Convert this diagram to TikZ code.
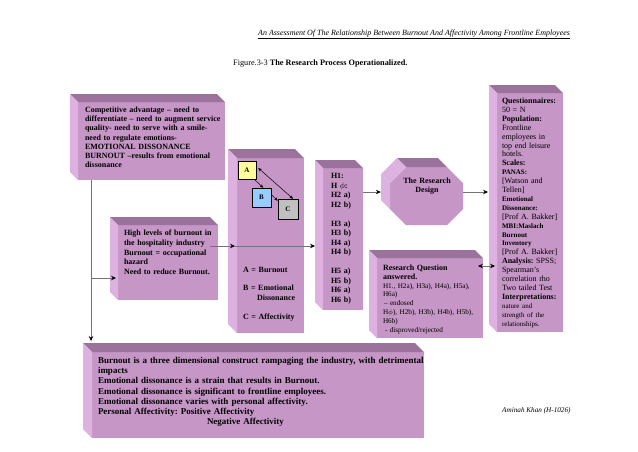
\documentclass[tikz,border=0pt]{standalone}
\usepackage{fontspec}
\setmainfont{Liberation Serif}
\usetikzlibrary{arrows.meta,calc}
\frenchspacing
\definecolor{fr}{RGB}{197,150,198}
\definecolor{tp}{RGB}{154,114,156}
\definecolor{lf}{RGB}{221,178,225}
\definecolor{ya}{RGB}{255,255,153}
\definecolor{bb}{RGB}{153,204,255}
\definecolor{gc}{RGB}{192,192,192}
\newcommand\mycube[6]{%
  \node[face, minimum width={#4-#2}, minimum height={#5-#3}] (#1) at ({(#2+#4)/2},{(#3+#5)/2}) {};
  \fill[tp] (#1.north west) -- ++(-#6,-#6) -- ($(#1.north east)+(-#6,-#6)$) -- (#1.north east) -- cycle;
  \fill[lf] (#1.north west) -- ++(-#6,-#6) -- ($(#1.south west)+(-#6,-#6)$) -- (#1.south west) -- cycle;
}
\tikzset{
  face/.style={fill=fr, inner sep=0pt, outer sep=0pt, draw=none},
  con/.style={draw=black!55, line width=0.6pt},
  arr/.style={con, -{Stealth[length=5pt,width=4.5pt,inset=1.8pt,color=black]}},
  darr/.style={con, {Stealth[length=5pt,width=4.5pt,inset=1.8pt,color=black]}-{Stealth[length=5pt,width=4.5pt,inset=1.8pt,color=black]}},
  sarr/.style={draw=black, line width=0.5pt, -{Stealth[length=3.5pt,width=3pt,inset=1pt]}},
  sdarr/.style={draw=black, line width=0.5pt, {Stealth[length=3.5pt,width=3pt,inset=1pt]}-{Stealth[length=3.5pt,width=3pt,inset=1pt]}},
  txt/.style={inner sep=0pt, outer sep=0pt, anchor=base west, align=left},
  lbl/.style={draw=black, line width=0.5pt, inner sep=0pt, font=\fontsize{7}{8}\selectfont\bfseries},
}
\begin{document}
\begin{tikzpicture}[x=1pt,y=-1pt]
\useasboundingbox[fill=white] (0,0) rectangle (638,451);

% 3D boxes
\mycube{b1}{78}{102}{225}{180}{8}
\mycube{b2}{118}{225}{218}{300}{8}
\mycube{b3}{237}{158}{304}{333}{9}
\mycube{b4}{323}{168}{363}{310}{8}
\mycube{b5}{92}{352}{424}{438}{9}
\mycube{b6}{377}{258}{483}{338}{8}
\mycube{b7}{497}{93}{563}{332}{8}

% octagon
\node[inner sep=0pt, minimum width=73, minimum height=58] (oct) at (426.5,196) {};
\fill[fr] (406,167) -- (447,167) -- (463,183) -- (463,209) -- (447,225) -- (406,225) -- (390,209) -- (390,183) -- cycle;
\fill[tp] (406,167) -- (447,167) -- (438,158) -- (397,158) -- cycle;
\fill[lf] (390,183) -- (406,167) -- (397,158) -- (381,174) -- cycle;
\fill[lf] (390,183) -- (390,209) -- (381,200) -- (381,174) -- cycle;

% connectors
\coordinate (v0) at ($(b1.south west)+(13,0)$);
\draw[arr] (v0) -- ($(v0 |- b5.north)+(0,-11)$);
\coordinate (v2) at ($(v0 |- b2.west)+(0,15.5)$);
\draw[arr] (v2) -- ([xshift=-2pt]b2.west |- v2);
\coordinate (h1) at ($(b2.east)+(-8,-16.5)$);
\draw[arr] (h1) -- ([xshift=-2pt]b3.west |- h1);
\draw[arr] ([xshift=-2pt]b3.west |- h1) -- ([xshift=-8pt]b4.west |- h1);
\coordinate (h2) at ($(b4.east)+(0,-47)$);
\draw[arr] (h2) -- ([xshift=-9pt]oct.west |- h2);
\draw[arr] (oct.east |- h2) -- ([xshift=-9pt]b7.west |- h2);
\coordinate (h3) at ($(b6.east)+(-5,-32)$);
\draw[darr] (h3) -- ([xshift=-2pt]b7.west |- h3);

% A B C
\node[lbl, fill=ya, minimum size=18pt] (A) at (247,170) {A};
\node[lbl, fill=bb, minimum size=19pt] (B) at (261.5,197.5) {B};
\node[lbl, fill=gc, minimum size=20pt] (C) at (288,209) {C};
\draw[sarr] ([xshift=-2pt]A.south east) -- ([xshift=-8pt]B.north east);
\draw[sarr] ([yshift=3pt]B.east) -- ([yshift=-2pt]C.north west);
\draw[sdarr] ([xshift=2pt,yshift=2pt]A.east) -- ([xshift=5pt]C.north);

% texts
\node[txt, text width=145pt, font=\fontsize{8}{9.2}\selectfont\bfseries] (t1) at (85,112.5)
 {Competitive advantage – need to\\differentiate – need to augment service\\quality- need to serve with a smile-\\need to regulate emotions-\\EMOTIONAL DISSONANCE\\BURNOUT –results from emotional\\dissonance};
\node[txt, text width=95pt, font=\fontsize{8}{9.8}\selectfont\bfseries] (t2) at (124,235.5)
 {High levels of burnout in\\the hospitality industry\\Burnout = occupational\\hazard\\Need to reduce Burnout.};
\node[txt, text width=62pt, font=\fontsize{8}{10}\selectfont\bfseries] (t3) at (243,272.5)
 {A = Burnout\\[8pt]B = Emotional\\\hspace*{14pt}Dissonance\\[9pt]C = Affectivity};
\node[txt, text width=34pt, font=\fontsize{8}{9.5}\selectfont\bfseries] (t4) at (331,178.5)
 {H1:\\H $\phi$:\\H2 a)\\H2 b)\\[9.5pt]H3 a)\\H3 b)\\H4 a)\\H4 b)\\[9.5pt]H5 a)\\H5 b)\\H6 a)\\H6 b)};
\node[txt, text width=100pt, font=\fontsize{7.2}{8.8}\selectfont] (t6) at (383,270.5)
 {{\fontsize{8}{8.8}\selectfont\bfseries Research Question}\\{\fontsize{8}{8.8}\selectfont\bfseries answered.}\\H1., H2a), H3a), H4a), H5a),\\H6a)\\\hspace*{1pt}– endosed\\H$\phi$), H2b), H3b), H4b), H5b),\\H6b)\\\hspace*{2pt}- disproved/rejected};
\node[txt, text width=64pt, font=\fontsize{8}{8.9}\selectfont] (t7) at (502,103.5)
 {\textbf{Questionnaires:}\\50 = N\\\textbf{Population:}\\Frontline\\employees in\\top end leisure\\hotels.\\\textbf{Scales:}\\{\fontsize{7}{8.9}\selectfont\bfseries PANAS:}\\{[}Watson and\\Tellen]\\{\fontsize{7}{8.9}\selectfont\bfseries Emotional}\\{\fontsize{7}{8.9}\selectfont\bfseries Dissonance:}\\{[}Prof A. Bakker]\\{\fontsize{7}{8.9}\selectfont\bfseries MBI:Maslach}\\{\fontsize{7}{8.9}\selectfont\bfseries Burnout}\\{\fontsize{7}{8.9}\selectfont\bfseries Inventory}\\{[}Prof A. Bakker]\\\textbf{Analysis:} SPSS;\\Spearman's\\correlation rho\\Two tailed Test\\\textbf{Interpretations:}\\{\fontsize{7}{8.9}\selectfont nature and}\\{\fontsize{7}{8.9}\selectfont strength of the}\\{\fontsize{7}{8.9}\selectfont relationships.}};
\node[txt, text width=335pt, font=\fontsize{9}{10.2}\selectfont\bfseries] (t5) at (98,363.5)
 {Burnout is a three dimensional construct rampaging the industry, with detrimental\\impacts\\Emotional dissonance is a strain that results in Burnout.\\Emotional dissonance is significant to frontline employees.\\Emotional dissonance varies with personal affectivity.\\Personal Affectivity: Positive Affectivity\\\hspace*{109pt}Negative Affectivity};
\node[inner sep=0pt, anchor=base, text width=64pt, align=center, font=\fontsize{8}{9}\selectfont\bfseries] (t8) at (427,183.5)
 {The Research\\Design};

\node[inner sep=0pt, anchor=base west, font=\fontsize{7.95}{10}\selectfont\itshape] (hdr) at (258,35)
 {\underline{An Assessment Of The Relationship Between Burnout And Affectivity Among Frontline Employees}};
\node[inner sep=0pt, anchor=base west, font=\fontsize{8.25}{9}\selectfont] (cap) at (233,65.5)
 {Figure.3-3 \textbf{The Research Process Operationalized.}};
\node[inner sep=0pt, anchor=base west, font=\fontsize{7.2}{9}\selectfont\itshape] (auth) at (502,412.5)
 {Aminah Khan (H-1026)};
\end{tikzpicture}
\end{document}
